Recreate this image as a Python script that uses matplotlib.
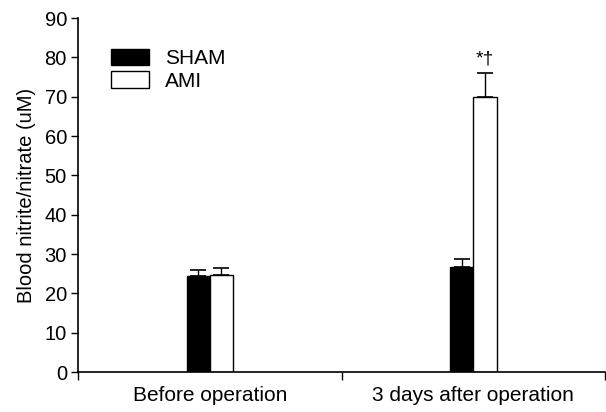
import matplotlib
matplotlib.use("Agg")
import matplotlib.pyplot as plt
import numpy as np

# values
groups = ["Before operation", "3 days after operation"]
sham = [24.3, 26.8]
sham_err = [1.6, 2.0]
ami = [24.8, 70.0]
ami_err = [1.7, 6.0]
yticks = list(range(0, 91, 10))

plt.rcParams["font.family"] = ["Liberation Sans", "DejaVu Sans"]

fig = plt.figure(figsize=(6.06, 4.12), dpi=100)
ax = fig.add_axes([0.1287, 0.097, 0.870, 0.859])

x = np.arange(len(groups))
w = 0.088
ax.bar(x - w / 2, sham, w, color="black", edgecolor="black", linewidth=1,
       label="SHAM", zorder=2)
ax.bar(x + w / 2, ami, w, color="white", edgecolor="black", linewidth=1,
       label="AMI", zorder=2)
ax.errorbar(x - w / 2, sham, yerr=[[0, 0], sham_err], fmt="none",
            ecolor="black", elinewidth=1, capsize=6, capthick=1.2, zorder=3)
ax.errorbar(x + w / 2, ami, yerr=[[0, 0], ami_err], fmt="none",
            ecolor="black", elinewidth=1, capsize=6, capthick=1.2, zorder=3)

ax.text(x[1] + w / 2, ami[1] + ami_err[1] + 1.5, "*\u2020", ha="center",
        va="bottom", fontsize=14)

ax.set_xlim(-0.5, 1.5)
ax.set_ylim(0, 90)
ax.set_yticks(yticks)
ax.tick_params(axis="y", labelsize=14.5, length=5, width=1, direction="out",
               pad=3)
ax.set_xticks([-0.5, 0.5, 1.5])
ax.set_xticklabels([])
ax.set_xticks(x, minor=True)
ax.set_xticklabels(groups, minor=True)
ax.tick_params(axis="x", which="major", length=6, width=1)
ax.tick_params(axis="x", which="minor", length=0, labelsize=15, pad=10)

ax.set_ylabel("Blood nitrite/nitrate (uM)", fontsize=14.5, labelpad=6)
for s in ["top", "right"]:
    ax.spines[s].set_visible(False)
for s in ["left", "bottom"]:
    ax.spines[s].set_linewidth(1.2)

ax.legend(loc="upper left", bbox_to_anchor=(0.047, 0.937), frameon=False,
          fontsize=15, handlelength=1.8, handleheight=0.85, handletextpad=0.8,
          labelspacing=0.15, borderaxespad=0)

fig.savefig("out.png", dpi=100)
